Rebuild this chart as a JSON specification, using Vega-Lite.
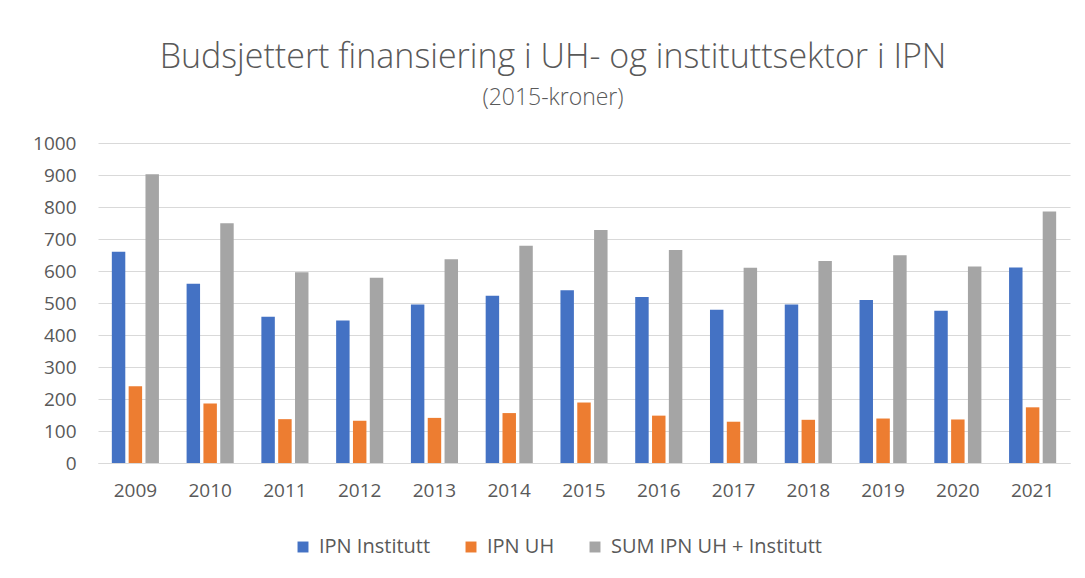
{
  "$schema": "https://vega.github.io/schema/vega-lite/v6.json",
  "width": 972,
  "height": 320,
  "autosize": {"type": "none"},
  "padding": {"left": 98, "top": 143, "right": 15, "bottom": 115},
  "background": "white",
  "title": {
    "text": "Budsjettert finansiering i UH- og instituttsektor i IPN",
    "subtitle": "(2015-kroner)",
    "anchor": "middle",
    "dx": -31,
    "offset": 24,
    "font": "Open Sans",
    "fontSize": 34,
    "fontWeight": 300,
    "color": "#595959",
    "subtitleFont": "Open Sans",
    "subtitleFontSize": 23,
    "subtitleFontWeight": 300,
    "subtitleColor": "#595959",
    "subtitlePadding": 12
  },
  "data": {
    "values": [
      {"year": "2009", "series": "IPN Institutt", "value": 660},
      {"year": "2009", "series": "IPN UH", "value": 240},
      {"year": "2009", "series": "SUM IPN UH + Institutt", "value": 902},
      {"year": "2010", "series": "IPN Institutt", "value": 560},
      {"year": "2010", "series": "IPN UH", "value": 186},
      {"year": "2010", "series": "SUM IPN UH + Institutt", "value": 749},
      {"year": "2011", "series": "IPN Institutt", "value": 457},
      {"year": "2011", "series": "IPN UH", "value": 137},
      {"year": "2011", "series": "SUM IPN UH + Institutt", "value": 596},
      {"year": "2012", "series": "IPN Institutt", "value": 445},
      {"year": "2012", "series": "IPN UH", "value": 132},
      {"year": "2012", "series": "SUM IPN UH + Institutt", "value": 579},
      {"year": "2013", "series": "IPN Institutt", "value": 495},
      {"year": "2013", "series": "IPN UH", "value": 141},
      {"year": "2013", "series": "SUM IPN UH + Institutt", "value": 637},
      {"year": "2014", "series": "IPN Institutt", "value": 523},
      {"year": "2014", "series": "IPN UH", "value": 156},
      {"year": "2014", "series": "SUM IPN UH + Institutt", "value": 679},
      {"year": "2015", "series": "IPN Institutt", "value": 540},
      {"year": "2015", "series": "IPN UH", "value": 189},
      {"year": "2015", "series": "SUM IPN UH + Institutt", "value": 728},
      {"year": "2016", "series": "IPN Institutt", "value": 519},
      {"year": "2016", "series": "IPN UH", "value": 148},
      {"year": "2016", "series": "SUM IPN UH + Institutt", "value": 666},
      {"year": "2017", "series": "IPN Institutt", "value": 479},
      {"year": "2017", "series": "IPN UH", "value": 129},
      {"year": "2017", "series": "SUM IPN UH + Institutt", "value": 610},
      {"year": "2018", "series": "IPN Institutt", "value": 495},
      {"year": "2018", "series": "IPN UH", "value": 135},
      {"year": "2018", "series": "SUM IPN UH + Institutt", "value": 631},
      {"year": "2019", "series": "IPN Institutt", "value": 509},
      {"year": "2019", "series": "IPN UH", "value": 139},
      {"year": "2019", "series": "SUM IPN UH + Institutt", "value": 649},
      {"year": "2020", "series": "IPN Institutt", "value": 476},
      {"year": "2020", "series": "IPN UH", "value": 136},
      {"year": "2020", "series": "SUM IPN UH + Institutt", "value": 614},
      {"year": "2021", "series": "IPN Institutt", "value": 611},
      {"year": "2021", "series": "IPN UH", "value": 174},
      {"year": "2021", "series": "SUM IPN UH + Institutt", "value": 786}
    ]
  },
  "mark": {"type": "bar"},
  "encoding": {
    "x": {
      "field": "year",
      "type": "nominal",
      "scale": {"paddingInner": 0.37, "paddingOuter": 0.185},
      "axis": {
        "title": null,
        "labelAngle": 0,
        "labelFont": "Open Sans",
        "labelFontSize": 19,
        "labelColor": "#595959",
        "labelPadding": 18,
        "ticks": false,
        "domainColor": "#d9d9d9",
        "domainWidth": 1,
        "grid": false
      }
    },
    "xOffset": {
      "field": "series",
      "type": "nominal",
      "scale": {"paddingInner": 0.2}
    },
    "y": {
      "field": "value",
      "type": "quantitative",
      "scale": {"domain": [0, 1000]},
      "axis": {
        "title": null,
        "format": "d",
        "values": [0, 100, 200, 300, 400, 500, 600, 700, 800, 900, 1000],
        "labelFont": "Open Sans",
        "labelFontSize": 19,
        "labelColor": "#595959",
        "labelPadding": 22,
        "ticks": false,
        "domain": false,
        "gridColor": "#d9d9d9",
        "gridWidth": 1.2
      }
    },
    "color": {
      "field": "series",
      "type": "nominal",
      "scale": {
        "domain": ["IPN Institutt", "IPN UH", "SUM IPN UH + Institutt"],
        "range": ["#4472C4", "#ED7D31", "#A5A5A5"]
      },
      "legend": {
        "title": null,
        "orient": "none",
        "direction": "horizontal",
        "legendX": 195,
        "legendY": 394,
        "symbolType": "square",
        "symbolSize": 120,
        "symbolStrokeWidth": 0,
        "labelFont": "Open Sans",
        "labelFontSize": 20,
        "labelLimit": 400,
        "labelColor": "#595959",
        "columnPadding": 30,
        "labelOffset": 6
      }
    }
  },
  "config": {
    "view": {"stroke": null}
  }
}
